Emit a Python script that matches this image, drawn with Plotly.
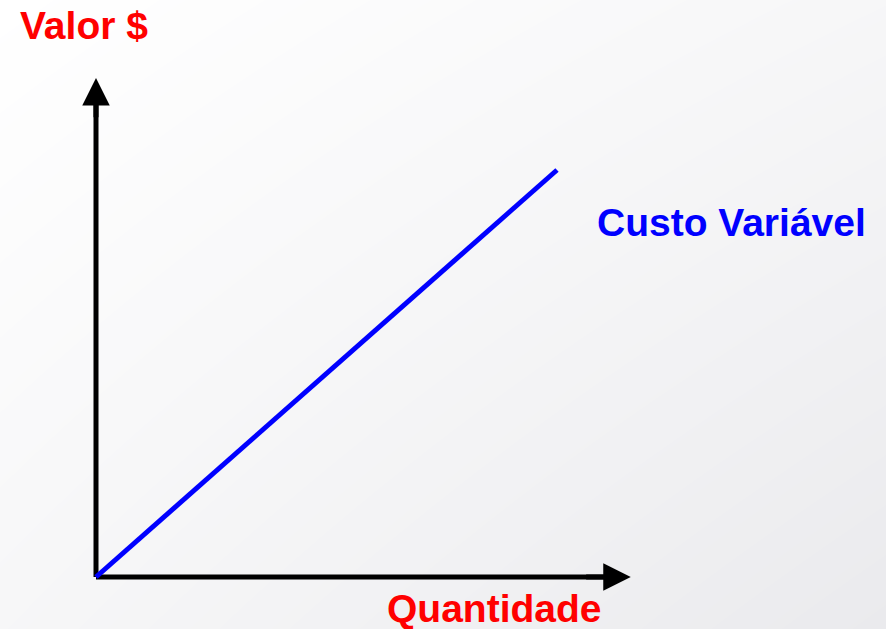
import plotly.graph_objects as go

# Data: variable cost grows linearly with quantity
quantidade = [0, 10]
custo_variavel = [0, 10]

# Axis labels / series label
label_y = "Valor $"
label_x = "Quantidade"
label_serie = "Custo Variável"

# Axis extents (arrow tips) in data units
x_axis_end = 11.6
y_axis_end = 12.26

X_RANGE = [-2.0824, 17.137]
Y_RANGE = [-1.2776, 14.177]

FONT = "Arial, Liberation Sans, sans-serif"

fig = go.Figure()

# soft diagonal background gradient
fig.add_trace(go.Heatmap(
    x=X_RANGE, y=Y_RANGE,
    z=[[0.6, 0.0], [1.0, 0.6]],
    zsmooth="best", showscale=False, hoverinfo="skip",
    colorscale=[[0, "#eaeaed"], [1, "#ffffff"]], zmin=0, zmax=1,
))

# axis shafts
fig.add_trace(go.Scatter(x=[0, 0], y=[0, y_axis_end - 0.5], mode="lines",
                         line=dict(color="black", width=5), hoverinfo="skip", showlegend=False))
fig.add_trace(go.Scatter(x=[0, x_axis_end - 0.5], y=[0, 0], mode="lines",
                         line=dict(color="black", width=5), hoverinfo="skip", showlegend=False))

# variable cost line
fig.add_trace(go.Scatter(x=quantidade, y=custo_variavel, mode="lines",
                         line=dict(color="#0000ff", width=5), hoverinfo="skip", showlegend=False))

# arrow heads
fig.add_annotation(x=0, y=y_axis_end, ax=0, ay=y_axis_end - 1.0, xref="x", yref="y",
                   axref="x", ayref="y", text="", showarrow=True, arrowhead=2,
                   arrowsize=1.1, arrowwidth=5, arrowcolor="black")
fig.add_annotation(x=x_axis_end, y=0, ax=x_axis_end - 1.0, ay=0, xref="x", yref="y",
                   axref="x", ayref="y", text="", showarrow=True, arrowhead=2,
                   arrowsize=1.1, arrowwidth=5, arrowcolor="black")

# labels
def label(text, px, py, color):
    fig.add_annotation(x=px / 886, y=1 - py / 629, xref="paper", yref="paper",
                       xanchor="center", yanchor="middle", text=f"<b>{text}</b>",
                       showarrow=False, font=dict(family=FONT, size=39, color=color))

label(label_y, 84, 26, "#ff0000")
label(label_x, 494, 608, "#ff0000")
label(label_serie, 731, 222, "#0000ff")

fig.update_xaxes(range=X_RANGE, visible=False, domain=[0, 1])
fig.update_yaxes(range=Y_RANGE, visible=False, domain=[0, 1])
fig.update_layout(width=886, height=629, margin=dict(l=0, r=0, t=0, b=0),
                  paper_bgcolor="white", plot_bgcolor="white", showlegend=False)

fig.write_html("out.html", config={"displayModeBar": False, "staticPlot": True},
               post_script="document.body.style.margin='0';document.body.style.overflow='hidden';")
